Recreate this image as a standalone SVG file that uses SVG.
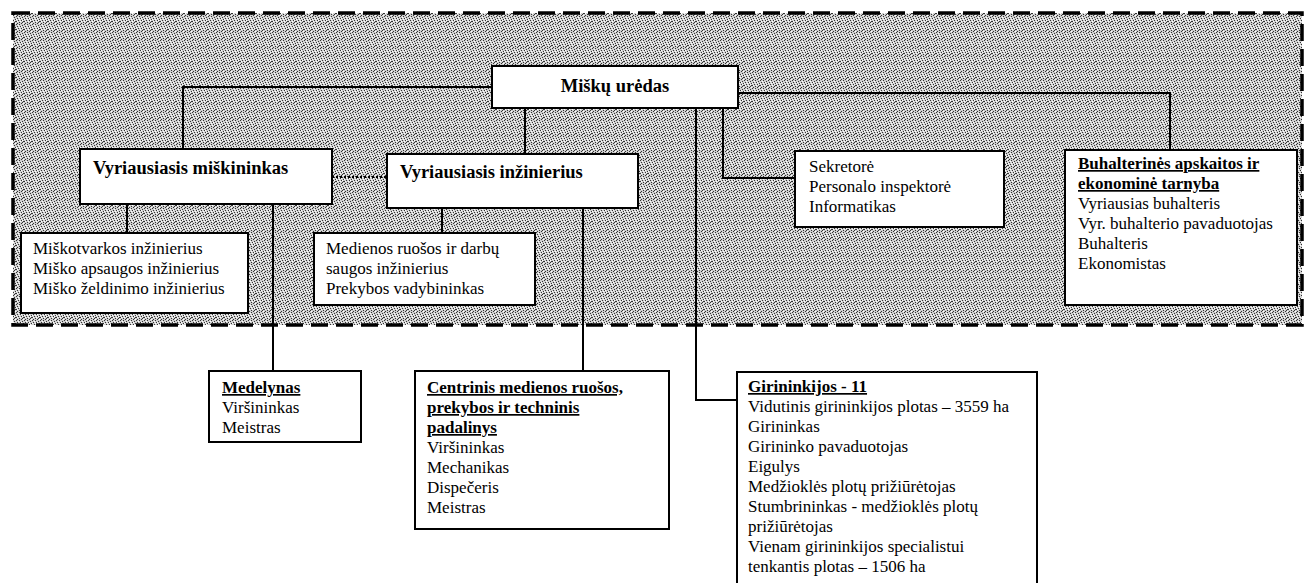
<svg xmlns="http://www.w3.org/2000/svg" width="1308" height="583" viewBox="0 0 1308 583">
<defs>
<pattern id="stip" width="8" height="8" patternUnits="userSpaceOnUse">
<rect width="8" height="8" fill="#cfcfcf"/>
<g fill="#333">
<rect x="0" y="0" width="1" height="1"/><rect x="3" y="0" width="1" height="1"/>
<rect x="6" y="1" width="1" height="1"/><rect x="1" y="2" width="1" height="1"/>
<rect x="4" y="2" width="1" height="1"/><rect x="7" y="3" width="1" height="1"/>
<rect x="2" y="4" width="1" height="1"/><rect x="5" y="4" width="1" height="1"/>
<rect x="0" y="5" width="1" height="1"/><rect x="3" y="6" width="1" height="1"/>
<rect x="6" y="6" width="1" height="1"/><rect x="1" y="7" width="1" height="1"/>
<rect x="5" y="7" width="1" height="1"/><rect x="7" y="5" width="1" height="1"/>
</g>
<g fill="#fff">
<rect x="2" y="1" width="1" height="1"/><rect x="5" y="2" width="1" height="1"/>
<rect x="0" y="3" width="1" height="1"/><rect x="4" y="5" width="1" height="1"/>
<rect x="6" y="4" width="1" height="1"/><rect x="3" y="3" width="1" height="1"/>
<rect x="1" y="5" width="1" height="1"/><rect x="7" y="7" width="1" height="1"/>
</g>
</pattern>
</defs>
<style>
.box{fill:#fff;stroke:#000;stroke-width:2}
.t{font-family:"Liberation Serif","Times New Roman",serif;font-size:17px;fill:#000}
.b{font-weight:bold}
.h{font-size:18.5px}
.u{text-decoration:underline}
.c{fill:none;stroke:#000;stroke-width:2}
</style>
<rect width="1308" height="583" fill="#fff"/>
<g id="region">
<rect x="13" y="13" width="1289" height="312" fill="url(#stip)"/>
<rect x="13" y="13" width="1289" height="312" fill="none" stroke="#000" stroke-width="3.5" stroke-dasharray="17 8"/>
</g>
<g id="connectors">
<polyline class="c" points="492,87 183,87 183,149"/>
<polyline class="c" points="738,93 1170,93 1170,150"/>
<line class="c" x1="525" y1="108" x2="525" y2="154"/>
<polyline class="c" points="723,108 723,178 795,178"/>
<polyline class="c" points="696,108 696,400 737,400"/>
<line class="c" x1="127" y1="204" x2="127" y2="233"/>
<line class="c" x1="273" y1="204" x2="273" y2="371"/>
<line class="c" x1="442" y1="208" x2="442" y2="233"/>
<line class="c" x1="583" y1="208" x2="583" y2="371"/>
<line x1="332" y1="177" x2="387" y2="177" stroke="#000" stroke-width="2" stroke-dasharray="2 2"/>
</g>
<g id="n-uredas">
<rect class="box" x="492" y="66" width="246" height="42"/>
<text class="t b h" x="615" y="92" text-anchor="middle">Miškų urėdas</text>
</g>
<g id="n-miskininkas">
<rect class="box" x="80" y="149" width="252" height="55"/>
<text class="t b h" x="93" y="174">Vyriausiasis miškininkas</text>
</g>
<g id="n-inzinierius">
<rect class="box" x="387" y="154" width="251" height="54"/>
<text class="t b h" x="400" y="178">Vyriausiasis inžinierius</text>
</g>
<g id="n-sekretore">
<rect class="box" x="795" y="151" width="209" height="76"/>
<text class="t" x="809" y="172">Sekretorė</text>
<text class="t" x="809" y="192">Personalo inspektorė</text>
<text class="t" x="809" y="212">Informatikas</text>
</g>
<g id="n-buhalterija">
<rect class="box" x="1065" y="150" width="232" height="155"/>
<text class="t b u" x="1078" y="169">Buhalterinės apskaitos ir</text>
<text class="t b u" x="1078" y="189">ekonominė tarnyba</text>
<text class="t" x="1078" y="209">Vyriausias buhalteris</text>
<text class="t" x="1078" y="229">Vyr. buhalterio pavaduotojas</text>
<text class="t" x="1078" y="249">Buhalteris</text>
<text class="t" x="1078" y="269">Ekonomistas</text>
</g>
<g id="n-miskotvarka">
<rect class="box" x="21" y="233" width="227" height="80"/>
<text class="t" x="33" y="254">Miškotvarkos inžinierius</text>
<text class="t" x="33" y="274">Miško apsaugos inžinierius</text>
<text class="t" x="33" y="294">Miško želdinimo inžinierius</text>
</g>
<g id="n-medienos">
<rect class="box" x="314" y="233" width="221" height="72"/>
<text class="t" x="326" y="254">Medienos ruošos ir darbų</text>
<text class="t" x="326" y="274">saugos inžinierius</text>
<text class="t" x="326" y="294">Prekybos vadybininkas</text>
</g>
<g id="n-medelynas">
<rect class="box" x="209" y="371" width="152" height="71"/>
<text class="t b u" x="222" y="393">Medelynas</text>
<text class="t" x="222" y="413">Viršininkas</text>
<text class="t" x="222" y="433">Meistras</text>
</g>
<g id="n-centrinis">
<rect class="box" x="415" y="371" width="254" height="158"/>
<text class="t b u" x="427" y="393">Centrinis medienos ruošos,</text>
<text class="t b u" x="427" y="413">prekybos ir techninis</text>
<text class="t b u" x="427" y="433">padalinys</text>
<text class="t" x="427" y="453">Viršininkas</text>
<text class="t" x="427" y="473">Mechanikas</text>
<text class="t" x="427" y="493">Dispečeris</text>
<text class="t" x="427" y="513">Meistras</text>
</g>
<g id="n-girininkijos">
<rect class="box" x="737" y="372" width="300" height="230"/>
<text class="t b u" x="748" y="392">Girininkijos - 11</text>
<text class="t" x="748" y="412">Vidutinis girininkijos plotas – 3559 ha</text>
<text class="t" x="748" y="432">Girininkas</text>
<text class="t" x="748" y="452">Girininko pavaduotojas</text>
<text class="t" x="748" y="472">Eigulys</text>
<text class="t" x="748" y="492">Medžioklės plotų prižiūrėtojas</text>
<text class="t" x="748" y="512">Stumbrininkas - medžioklės plotų</text>
<text class="t" x="748" y="532">prižiūrėtojas</text>
<text class="t" x="748" y="552">Vienam girininkijos specialistui</text>
<text class="t" x="748" y="572">tenkantis plotas – 1506 ha</text>
</g>
</svg>
